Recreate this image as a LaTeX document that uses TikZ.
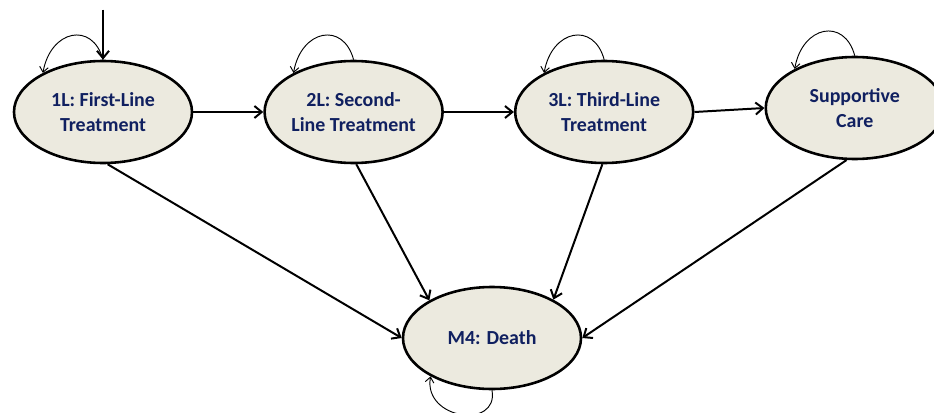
\documentclass[tikz,border=0pt]{standalone}
\usepackage{fontspec}
\setmainfont{Carlito}
\usetikzlibrary{arrows.meta,positioning,shapes.geometric}
\definecolor{StateFill}{HTML}{ECEADF}
\definecolor{StateText}{HTML}{102060}

\begin{document}
\begin{tikzpicture}[
    x=0.03cm, y=0.03cm,
    node distance=2.1cm,
    state/.style={ellipse, draw, line width=2.2pt, fill=StateFill, text=StateText,
      minimum width=5.34cm, minimum height=3.06cm, align=center, inner sep=0pt,
      font=\fontsize{17}{22}\selectfont\bfseries},
    arr/.style={-{Straight Barb[length=2.2mm,width=3.6mm]}, line width=1.7pt},
    selfloop/.style={-{Straight Barb[length=1.6mm,width=2.6mm]}, line width=0.8pt}
  ]
    \useasboundingbox (0,0) rectangle (934,412);
    \node[state] (first) at (103,300) {1L: First-Line\\Treatment};
    \node[state, right=of first] (second) {2L: Second-\\Line Treatment};
    \node[state, right=of second] (third) {3L: Third-Line\\Treatment};
    \node[state, right=of third, yshift=0.12cm] (care) {Supportive\\Care};
    \node[state] (death) at (492,74) {M4: Death};
    \coordinate[above=1.5cm of first.north] (entry);
    % transitions
    \draw[arr] (entry) -- (first.north);
    \draw[arr] (first) -- (second);
    \draw[arr] (second) -- (third);
    \draw[arr] (third.east) -- (care.west);
    \draw[arr] (first.-85) -- (death.west);
    \draw[arr] (second.-87) -- (death.149);
    \draw[arr] (third.-92) -- (death.32);
    \draw[arr] (care.-99) -- (death.east);
    % stay in state
    \foreach \s in {first,second,third,care}
      \draw[selfloop] (\s.north) .. controls +(105:40) and +(80:44) .. (\s.147);
    \draw[selfloop] (death.south) .. controls +(-80:40) and +(-100:44) .. (death.212);
  \end{tikzpicture}
\end{document}
